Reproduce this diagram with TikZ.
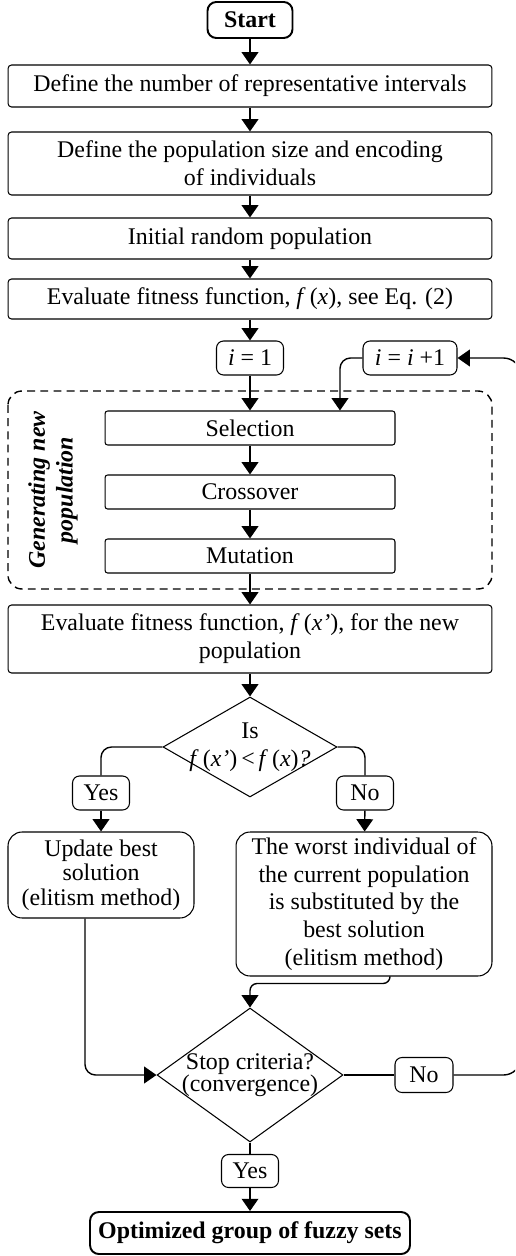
\documentclass[tikz,border=0pt]{standalone}
\usepackage{fontspec}
\setmainfont{Liberation Serif}
\usetikzlibrary{calc}
\usetikzlibrary{arrows.meta}
\usetikzlibrary{shapes.geometric}
\usepackage{xcolor}
\newcommand{\dtext}[1]{\makebox[0pt]{\begin{tabular}{@{}c@{}}#1\end{tabular}}}

\begin{document}
\begin{tikzpicture}[x=0.02cm, y=-0.02cm,
 every node/.style={font=\fontsize{13.6}{15.8}\selectfont, inner sep=2pt, align=center},
 proc/.style={draw, line width=0.6pt, rounded corners=2pt, minimum width=9.68cm},
 opbox/.style={draw, line width=0.6pt, rounded corners=1.5pt, minimum width=5.8cm, minimum height=0.68cm},
 term/.style={draw, line width=1.1pt, rounded corners=5pt, font=\fontsize{13.6}{15.8}\selectfont\bfseries},
 tag/.style={draw, line width=0.6pt, rounded corners=4pt, minimum width=1.14cm, minimum height=0.68cm},
 note/.style={draw, line width=0.6pt, rounded corners=8pt},
 decision/.style={diamond, draw, line width=0.6pt, inner sep=0pt},
 arr/.style={line width=0.8pt, -{Triangle[length=7pt, width=9.5pt]}},
 link/.style={line width=0.8pt}]
\useasboundingbox (0,0) rectangle (515,1256);
\clip (0,0) rectangle (515,1256);

\node[term, minimum width=1.7cm, minimum height=0.72cm] (start) at (250,20) {Start};
\node[proc, minimum height=0.84cm] (nint) at (250,86) {Define the number of representative intervals};
\node[proc, minimum height=1.26cm] (popsize) at (250,163.5) {Define the population size and encoding\\of individuals};
\node[proc, minimum height=0.82cm] (initpop) at (250,238.5) {Initial random population};
\node[proc, minimum height=0.8cm] (fit) at (250,299) {Evaluate fitness function, \textit{f}\,(\textit{x}), see Eq. (2)};
\node[tag, minimum width=1.34cm] (ione) at (250,358) {\textit{i} = 1};
\node[tag, minimum width=1.88cm] (iinc) at (410,358) {\textit{i} = \textit{i} +1};

\draw[line width=0.8pt, dash pattern=on 4.5pt off 3pt, rounded corners=8pt] (8,391) rectangle (492,589);
\node[rotate=90, font=\fontsize{13.6}{15.8}\selectfont\bfseries\itshape] (gen) at (53,490) {Generating new\\population};
\foreach \n/\t/\y in {sel/Selection/428, cross/Crossover/492, mut/Mutation/556}
 \node[opbox] (\n) at (250,\y) {\t};

\node[proc, minimum height=1.36cm] (fitnew) at (250,639) {Evaluate fitness function, \textit{f}\,(\textit{x’}), for the new\\population};
\node[decision, minimum width=3.48cm, minimum height=2cm] (better) at (250,747) {\raisebox{4pt}{\dtext{Is\\\textit{f}\,(\textit{x’})\,<\,\textit{f}\,(\textit{x})\textit{?}}}};
\node[tag] (yes1) at (101,793) {Yes};
\node[tag] (no1) at (365,793) {No};
\node[note, minimum width=3.72cm, minimum height=1.72cm] (upd) at (101,875) {Update best\\[-2pt]solution\\[-2pt](elitism method)};
\node[note, minimum width=5.12cm, minimum height=2.88cm] (worst) at (364,904) {The worst individual of\\the current population\\is substituted by the\\best solution\\(elitism method)};
\node[decision, minimum width=3.72cm, minimum height=2.68cm] (stop) at (250,1075) {\dtext{Stop criteria?\\[-3pt](convergence)}};
\node[tag, minimum width=1.16cm, minimum height=0.7cm] (no2) at (424,1075) {No};
\node[tag, minimum height=0.66cm] (yes2) at (250,1171) {Yes};
\node[term, minimum width=6.4cm, minimum height=0.84cm] (final) at (250,1233) {Optimized group of fuzzy sets};
\coordinate (rside) at (521,358);

\draw[arr] (start) -- (nint);
\draw[arr] (nint) -- (popsize);
\draw[arr] (popsize) -- (initpop);
\draw[arr] (initpop) -- (fit);
\draw[arr] (fit) -- (ione);
\draw[arr] (ione) -- (sel);
\draw[arr] (sel) -- (cross);
\draw[arr] (cross) -- (mut);
\draw[arr] (mut) -- (fitnew);
\draw[arr] (fitnew) -- (better);
\draw[arr, rounded corners=6pt] (iinc.west) -| ([xshift=1.8cm]sel.north);
\draw[link, rounded corners=6pt] (better.west) -| (yes1.north);
\draw[link, rounded corners=6pt] (better.east) -| (no1.north);
\draw[arr] (yes1) -- (upd);
\draw[arr] (no1) -- (worst);
\draw[arr, rounded corners=4pt] ([xshift=0.52cm]worst.south) -- ++(0,7) -| (stop.north);
\draw[arr, rounded corners=6pt] ([xshift=-0.32cm]upd.south) |- (stop.west);
\draw[link] (stop.east) -- (no2.west);
\draw[arr, rounded corners=10pt] (no2.east) -| (rside) -- (iinc.east);
\draw[link] (stop.south) -- (yes2.north);
\draw[arr] (yes2) -- (final);
\end{tikzpicture}
\end{document}
